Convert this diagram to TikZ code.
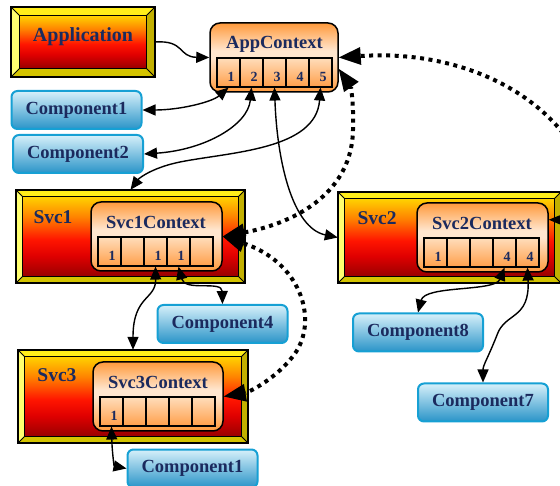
\documentclass[tikz,border=0pt]{standalone}
\usepackage{fontspec}
\setmainfont{Liberation Serif}
\usetikzlibrary{arrows.meta,calc}

\definecolor{navy}{HTML}{1B2A5E}
\definecolor{bvtopc}{HTML}{FFEE1A}
\definecolor{bvleftc}{HTML}{FFFF70}
\definecolor{bvrightc}{HTML}{C2B000}
\definecolor{bvbotc}{HTML}{D4C400}
\definecolor{svcD}{HTML}{9A0000}
\definecolor{svcR1}{HTML}{E00000}
\definecolor{svcR}{HTML}{FF1500}
\definecolor{svcO}{HTML}{FF8000}
\definecolor{svcY}{HTML}{FFD200}
\definecolor{ctxO}{HTML}{FF9A3C}
\definecolor{ctxL}{HTML}{FFE6CF}
\definecolor{cellT}{HTML}{FFDDBB}
\definecolor{cellB}{HTML}{FF9F4A}
\definecolor{compedge}{HTML}{16A0D4}
\definecolor{compT}{HTML}{D6F0FA}
\definecolor{compM}{HTML}{A8D8EF}
\definecolor{compB}{HTML}{2A94C8}

% service body: gold at the top, through orange and red, to dark red
\pgfdeclareverticalshading{svcshade}{100bp}{color(0bp)=(svcD); color(25bp)=(svcD); color(38bp)=(svcR1); color(48bp)=(svcR); color(62bp)=(svcO); color(75bp)=(svcY); color(100bp)=(svcY)}
% context body: orange rim at top and bottom, pale band just above the slots
\pgfdeclareverticalshading{ctxshade}{100bp}{color(0bp)=(ctxO); color(25bp)=(ctxO); color(50bp)=(ctxL); color(55bp)=(ctxL); color(75bp)=(ctxO); color(100bp)=(ctxO)}

% bevelled frame around a named rectangle node; #2 = bevel width
\newcommand\bevelframe[2]{%
  \fill[bvtopc] (#1.north west) -- (#1.north east) -- ($(#1.north east)+(-#2,#2)$) -- ($(#1.north west)+(#2,#2)$) -- cycle;
  \fill[bvleftc] (#1.north west) -- ($(#1.north west)+(#2,#2)$) -- ($(#1.south west)+(#2,-#2)$) -- (#1.south west) -- cycle;
  \fill[bvrightc] (#1.north east) -- (#1.south east) -- ($(#1.south east)+(-#2,-#2)$) -- ($(#1.north east)+(-#2,#2)$) -- cycle;
  \fill[bvbotc] (#1.south west) -- (#1.south east) -- ($(#1.south east)+(-#2,-#2)$) -- ($(#1.south west)+(#2,-#2)$) -- cycle;
  \shade[shading=svcshade] ($(#1.north west)+(#2,#2)$) rectangle ($(#1.south east)+(-#2,-#2)$);
  \draw[line width=1pt] ($(#1.north west)+(#2,#2)$) rectangle ($(#1.south east)+(-#2,-#2)$);
  \draw[line width=0.8pt] (#1.north west) -- ++(#2,#2) (#1.north east) -- ++(-#2,#2)
    (#1.south west) -- ++(#2,-#2) (#1.south east) -- ++(-#2,-#2);
  \draw[line width=1.6pt] (#1.north west) rectangle (#1.south east);
}

% a row of five slots; #1 prefix, #2 left x, #3 top y, #4 slot values
\newcommand\slotrow[4]{%
  \foreach \v [count=\i] in {#4} {
    \node[cell] (#1\i) at ({#2+(\i-0.5)*23}, {#3+14.5}) {};
    \node[cellnum, anchor=base] (#1n\i) at ($(#1\i.center)+(2.5,9)$) {\v};
  }%
}

\begin{document}
\begin{tikzpicture}[x=1pt, y=-1pt,
  svcbox/.style={rectangle, inner sep=0pt},
  ttl/.style={text=navy, inner sep=0pt, font=\bfseries\fontsize{18.5}{20}\selectfont},
  svclbl/.style={text=navy, inner sep=0pt, font=\bfseries\fontsize{19.5}{21}\selectfont},
  comp/.style={draw=compedge, line width=2pt, rounded corners=6pt, top color=compT,
    middle color=compM, bottom color=compB, minimum width=130pt, minimum height=38pt,
    inner sep=0pt, text=navy, font=\bfseries\fontsize{18.5}{20}\selectfont},
  ctxbox/.style={draw, line width=1.5pt, rounded corners=10pt, shading=ctxshade,
    minimum height=69pt, inner sep=0pt},
  cell/.style={draw, line width=1.1pt, minimum width=23pt, minimum height=29pt,
    inner sep=0pt, top color=cellT, bottom color=cellB},
  cellnum/.style={text=navy, inner sep=0pt, font=\bfseries\fontsize{14}{14}\selectfont},
  solidarr/.style={line width=1.4pt, >={Triangle[length=13pt,width=11pt]}, <->},
  dotarr/.style={line width=4pt, dash pattern=on 4pt off 4.5pt,
    >={Triangle[length=22pt,width=18pt,line width=0pt]}, <->}
]
\useasboundingbox (0,0) rectangle (560,486);

% ---- Application ----
\node[svcbox, minimum width=144pt, minimum height=70pt] (app) at (83,42) {};
\bevelframe{app}{9}
\node[ttl, anchor=base, font=\bfseries\fontsize{20}{22}\selectfont] (appL) at (83,41.5) {Application};

% ---- AppContext ----
\node[ctxbox, minimum width=128pt] (appctx) at (274,57.5) {};
\node[ttl, anchor=base] (appctxL) at (274.5,49) {AppContext};
\slotrow{a}{217}{58}{1,2,3,4,5}

% ---- components at the top left ----
\node[comp] (comp1) at (76.5,110) {Component1};
\node[comp] (comp2) at (78,154) {Component2};

% ---- Svc1 ----
\node[svcbox, minimum width=229pt, minimum height=93pt] (svc1) at (130.5,236.5) {};
\bevelframe{svc1}{7}
\node[svclbl, anchor=base] (svc1L) at (53,223.5) {Svc1};
\node[ctxbox, minimum width=131pt] (svc1ctx) at (156.5,236.5) {};
\node[ttl, anchor=base] (svc1ctxL) at (156,229) {Svc1Context};
\slotrow{b}{98}{237}{1,{},1,1,{}}

% ---- Svc2 ----
\node[svcbox, minimum width=223pt, minimum height=91pt] (svc2) at (449.5,237.5) {};
\bevelframe{svc2}{7}
\node[svclbl, anchor=base] (svc2L) at (377,224.5) {Svc2};
\node[ctxbox, minimum width=131pt] (svc2ctx) at (482.5,237.5) {};
\node[ttl, anchor=base] (svc2ctxL) at (482,229.5) {Svc2Context};
\slotrow{c}{424}{238}{1,{},{},4,4}

% ---- Svc3 ----
\node[svcbox, minimum width=230pt, minimum height=93pt] (svc3) at (133,396.5) {};
\bevelframe{svc3}{7}
\node[svclbl, anchor=base] (svc3L) at (57,381.5) {Svc3};
\node[ctxbox, minimum width=130pt] (svc3ctx) at (158,396.5) {};
\node[ttl, anchor=base] (svc3ctxL) at (158,389) {Svc3Context};
\slotrow{d}{100}{397}{1,{},{},{},{}}

% ---- remaining components ----
\node[comp] (comp4) at (222.5,324) {Component4};
\node[comp] (comp8) at (418,332.5) {Component8};
\node[comp] (comp7) at (483,402.5) {Component7};
\node[comp] (comp1b) at (192.5,468.5) {Component1};

% ---- solid connectors ----
\draw[solidarr, <-] (appctx.west) .. controls (178,57) and (185,40) .. (app.east);
\draw[solidarr] (comp1.east) .. controls (180,110) and (212,102) .. (a1.south);
\draw[solidarr] (comp2.east) .. controls (205,150) and (248,125) .. (a2.south);
\draw[solidarr] (a5.south) .. controls (316,150) and (230,152) .. (180,162)
  .. controls (155,167) and (140,177) .. (svc1.north);
\draw[solidarr] (a3.south) .. controls (277,160) and (292,228) .. (svc2.west);
\draw[solidarr] (b3.south) .. controls (156,300) and (133,295) .. (svc3.north);
\draw[solidarr] (b4.south) .. controls (185,292) and (222,280) .. (comp4.north);
\draw[solidarr] (d1.south) .. controls (112,450) and (114,466) .. (comp1b.west);
\draw[solidarr] (c4.south) .. controls (495,292) and (425,285) .. (comp8.north);
\draw[solidarr] (c5.south) .. controls (530,320) and (505,312) .. (497,335)
  .. controls (488,358) and (483,365) .. (comp7.north);

% ---- dotted context links ----
\draw[dotarr] (svc1ctx.east) .. controls (300,222) and (352,190) .. (353,130)
  .. controls (354,100) and (350,85) .. (appctx.-10);
\draw[dotarr] (svc1ctx.east) .. controls (300,262) and (318,318) .. (296,352)
  .. controls (280,376) and (250,392) .. (svc3ctx.east);
\draw[dotarr] (appctx.east) .. controls (450,50) and (535,85) .. (575,150)
  .. controls (600,195) and (580,220) .. (svc2ctx.15);
\end{tikzpicture}
\end{document}
